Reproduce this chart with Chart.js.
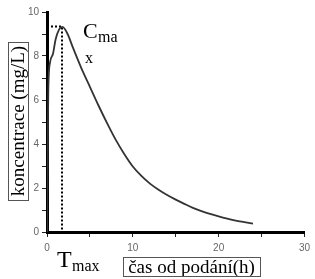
<!DOCTYPE html>
<html>
<head>
<meta charset="utf-8">
<script src="https://cdn.jsdelivr.net/npm/chart.js@4/dist/chart.umd.min.js"></script>
<style>
  html, body { margin: 0; padding: 0; background: #fff; }
  #wrap { width: 315px; height: 279px; }
</style>
</head>
<body>
<div id="wrap"><canvas id="pkChart"></canvas></div>
<script>
// Concentration curve
const timeHours = [0, 0.08, 0.15, 0.35, 0.7, 1.0, 1.4, 1.8, 2.4, 3, 4, 5, 6, 7, 8, 9, 10, 11, 12, 13, 14, 15, 16, 17, 18, 19, 20, 21, 22, 23, 24];
const concentration = [0, 3.5, 6.4, 7.7, 8.1, 8.75, 9.2, 9.32, 9.0, 8.4, 7.45, 6.6, 5.75, 4.95, 4.2, 3.55, 2.98, 2.55, 2.2, 1.92, 1.68, 1.47, 1.28, 1.1, 0.95, 0.82, 0.71, 0.61, 0.52, 0.45, 0.38];

// Tmax / Cmax guide
const tMax = 1.75;
const cMax = 9.34;

const xTickLabels = [0, 10, 20, 30];
const yTickLabels = [0, 2, 4, 6, 8, 10];

const yTitle = 'koncentrace (mg/L)';
const xTitle = 'čas od podání(h)';

let curvePoints = [];
for (let i = 0; i < timeHours.length; i++){
    curvePoints.push({x: timeHours[i], y: concentration[i]});
};

const guidePoints = [{x: 0, y: cMax}, {x: tMax, y: cMax}, {x: tMax, y: 0}];

// Labels drawn on top of the chart
const labelsPlugin = {
  id: 'pkLabels',
  afterDraw(chart) {
    const ctx = chart.ctx;
    const serif = '"Liberation Serif", "Times New Roman", serif';
    ctx.save();
    ctx.fillStyle = '#000';
    ctx.strokeStyle = '#555';
    ctx.lineWidth = 1;

    // y axis title in a box
    ctx.save();
    ctx.translate(18, 121);
    ctx.rotate(-Math.PI / 2);
    ctx.font = '19px ' + serif;
    ctx.textAlign = 'center';
    ctx.textBaseline = 'middle';
    ctx.fillText(yTitle, 0, 1);
    ctx.strokeRect(-79.5, -9.5, 158, 20);
    ctx.restore();

    // x axis title in a box
    ctx.font = '19px ' + serif;
    ctx.textAlign = 'center';
    ctx.textBaseline = 'alphabetic';
    ctx.fillText(xTitle, 191.5, 273);
    ctx.strokeRect(123.5, 257.5, 137, 19);

    // Cmax
    ctx.textAlign = 'left';
    ctx.font = '22px ' + serif;
    ctx.fillText('C', 83, 38);
    ctx.font = '16px ' + serif;
    ctx.fillText('ma', 98, 42);
    ctx.fillText('x', 85, 63);

    // Tmax
    ctx.font = '24px ' + serif;
    ctx.fillText('T', 57, 267);
    ctx.font = '16px ' + serif;
    ctx.fillText('max', 72, 271);
    ctx.restore();
  }
};

const tickFont = { family: '"Liberation Sans Narrow", "Liberation Sans", sans-serif', size: 10 };

const containerPkChart = document.querySelector('#pkChart').getContext('2d');
const pkChart = new Chart(containerPkChart, {
  type: 'scatter',
  data: {
    datasets: [{
      data: curvePoints,
      showLine: true,
      borderColor: '#333',
      borderWidth: 1.8,
      pointRadius: 0,
      cubicInterpolationMode: 'monotone'
    },
    {
      data: guidePoints,
      showLine: true,
      borderColor: '#000',
      borderWidth: 2,
      borderDash: [2, 2],
      pointRadius: 0,
      tension: 0
    }]
  },
  options: {
    responsive: true,
    maintainAspectRatio: false,
    animation: false,
    events: [],
    layout: {
      padding: { top: 12, right: 8, left: 0, bottom: 0 }
    },
    plugins: {
      legend: { display: false },
      tooltip: { enabled: false },
      title: { display: false }
    },
    scales: {
      x: {
        type: 'linear',
        min: 0,
        max: 30,
        afterFit: (scale) => { scale.height = 47; },
        border: { display: true, color: '#000', width: 3 },
        grid: { drawOnChartArea: false, drawTicks: true, tickLength: 5, tickColor: '#222', tickWidth: 1 },
        ticks: {
          stepSize: 5,
          autoSkip: false,
          maxRotation: 0,
          padding: 5,
          color: '#666',
          font: tickFont,
          callback: (value) => xTickLabels.includes(value) ? String(value) : ''
        }
      },
      y: {
        type: 'linear',
        min: 0,
        max: 10,
        afterFit: (scale) => { scale.width = 47; },
        border: { display: true, color: '#000', width: 3 },
        grid: { drawOnChartArea: false, drawTicks: true, tickLength: 5, tickColor: '#222', tickWidth: 1 },
        ticks: {
          stepSize: 1,
          autoSkip: false,
          padding: 3,
          color: '#666',
          font: tickFont,
          callback: (value) => yTickLabels.includes(value) ? String(value) : ''
        }
      }
    }
  },
  plugins: [labelsPlugin]
});
</script>
</body>
</html>
